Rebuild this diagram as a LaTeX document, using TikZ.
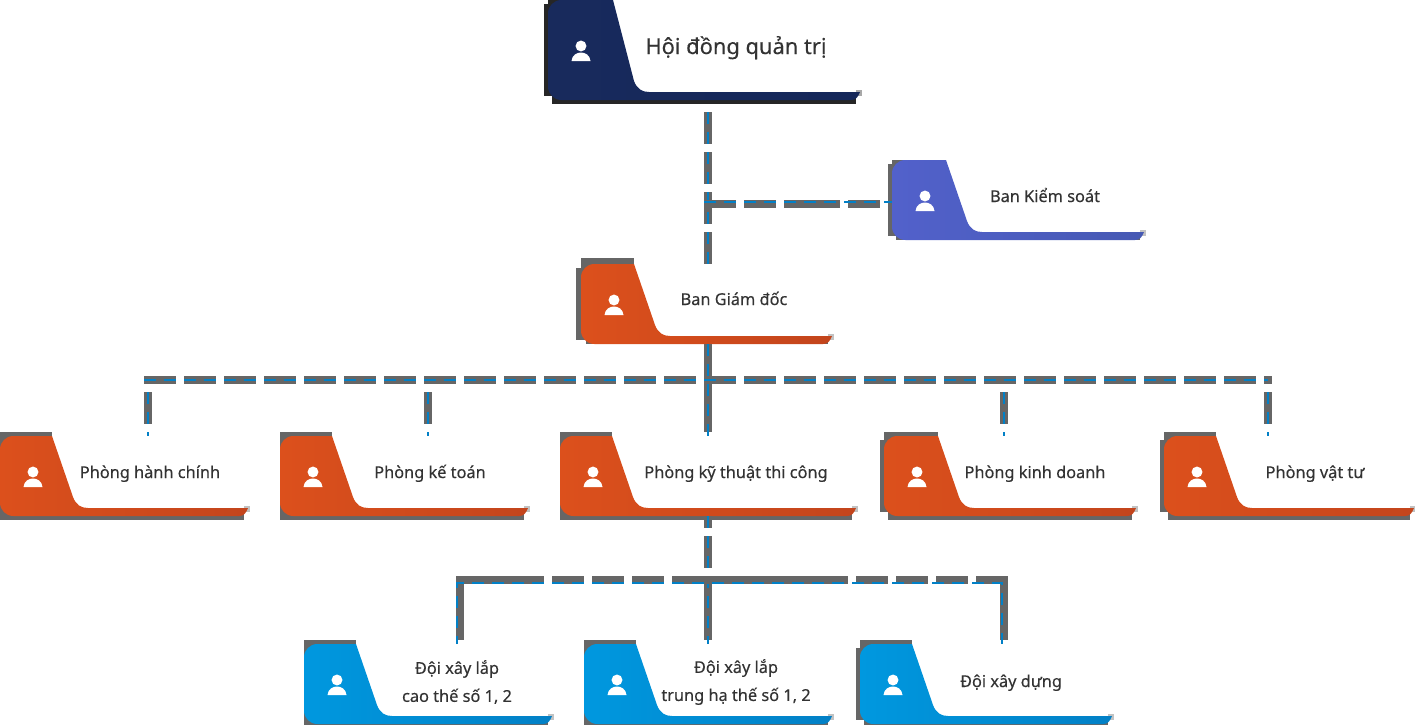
\documentclass[tikz,border=0pt]{standalone}
\usepackage{fontspec}
\setmainfont{Noto Sans}
\newfontfamily\cardfont[FakeBold=0.3]{Noto Sans}
\usetikzlibrary{calc}

\definecolor{navya}{HTML}{182A5C}
\definecolor{navyb}{HTML}{15275A}
\definecolor{violeta}{HTML}{5261CB}
\definecolor{violetb}{HTML}{4659B3}
\definecolor{orangea}{HTML}{DC501C}
\definecolor{orangeb}{HTML}{C3451C}
\definecolor{skya}{HTML}{0098DF}
\definecolor{skyb}{HTML}{0280C6}
\definecolor{wirecol}{HTML}{666666}
\definecolor{inkcol}{HTML}{333333}
\definecolor{darkcol}{HTML}{262626}

\tikzset{
  cardnavy/.style={left color=navya,right color=navyb},
  cardviolet/.style={left color=violeta,right color=violetb},
  cardorange/.style={left color=orangea,right color=orangeb},
  cardsky/.style={left color=skya,right color=skyb},
  wirebase/.style={draw=wirecol,line width=6pt,line join=miter,dash pattern=on 24pt off 6pt},
  wiretop/.style={draw=skyb,line width=2pt,dash pattern=on 9pt off 6pt},
  cardtext/.style={text=inkcol,font=\cardfont\fontsize{12.25}{21}\selectfont,anchor=base,inner sep=0pt},
}

% colour, x, y, width, height, notch, left, top and bottom overhang
\newcommand{\cardshadow}[9]{
  \fill[#1] (#2-#7,#3+4) rectangle (#2+4,#3+#5-4);
  \fill[#1] (#2,#3-#8) rectangle (#2+#6,#3+4);
  \fill[#1] (#2+#7,#3+#5-4) rectangle (#2+#4-4,#3+#5+#9);
  \fill[#1!40!white] (#2+#4-4,#3+#5-10) rectangle (#2+#4+2,#3+#5-4);
}

% name, x, y, width, height, notch, style
\newcommand{\card}[7]{
  \pgfmathsetmacro{\barY}{#3+#5-8}
  \pgfmathsetmacro{\iconX}{#2+33}
  \pgfmathsetmacro{\iconY}{#3+(#5-8)/2}
  \shade[#7] (#2+#6,#3) -- (#2+#6+21,\barY-11)
    .. controls (#2+#6+24,\barY-3) and (#2+#6+29,\barY) .. (#2+#6+36,\barY)
    -- (#2+#4,\barY)
    .. controls (#2+#4-2,\barY+5) and (#2+#4-4,#3+#5) .. (#2+#4-9,#3+#5)
    [rounded corners=10pt] -- (#2,#3+#5) -- (#2,#3) [sharp corners] -- cycle;
  \fill[white] (\iconX,\iconY) circle [radius=4.1pt];
  \fill[white] (\iconX-9.5,\iconY+15) .. controls (\iconX-9,\iconY+9) and (\iconX-4,\iconY+6.5) .. (\iconX,\iconY+6.5)
    .. controls (\iconX+4,\iconY+6.5) and (\iconX+9,\iconY+9) .. (\iconX+9.5,\iconY+15) -- cycle;
  \node(#1)[minimum width={#4*0.75pt},minimum height={#5*0.75pt},inner sep=0pt,outer sep=0pt] at (#2+#4/2,#3+#5/2) {};
}

\begin{document}
\begin{tikzpicture}[x=0.75pt,y=-0.75pt]
  \useasboundingbox (0,0) rectangle (1415,725);
  \clip (0,0) rectangle (1415,725);

  \cardshadow{darkcol}{548}{0}{312}{100}{65}{4}{0}{4}
  \cardshadow{wirecol}{892}{160}{252}{80}{54}{4}{0}{0}
  \cardshadow{wirecol}{581}{264}{251}{80}{53}{5}{6}{0}
  \cardshadow{wirecol}{0}{436}{248}{80}{52}{0}{4}{4}
  \cardshadow{wirecol}{280}{436}{248}{80}{52}{0}{4}{4}
  \cardshadow{wirecol}{560}{436}{296}{80}{52}{0}{4}{4}
  \cardshadow{wirecol}{884}{436}{252}{80}{54}{4}{4}{4}
  \cardshadow{wirecol}{1164}{436}{250}{80}{52}{4}{4}{4}
  \cardshadow{wirecol}{304}{644}{248}{80}{52}{0}{4}{4}
  \cardshadow{wirecol}{584}{644}{248}{80}{52}{0}{4}{4}
  \cardshadow{wirecol}{860}{644}{252}{80}{52}{4}{4}{4}

  \card{hdqt}{548}{0}{312}{100}{65}{cardnavy}
  \card{bks}{892}{160}{252}{80}{54}{cardviolet}
  \card{bgd}{581}{264}{251}{80}{53}{cardorange}
  \card{pha}{0}{436}{248}{80}{52}{cardorange}
  \card{pkt}{280}{436}{248}{80}{52}{cardorange}
  \card{pkl}{560}{436}{296}{80}{52}{cardorange}
  \card{pkd}{884}{436}{252}{80}{54}{cardorange}
  \card{pvt}{1164}{436}{250}{80}{52}{cardorange}
  \card{dxa}{304}{644}{248}{80}{52}{cardsky}
  \card{dxb}{584}{644}{248}{80}{52}{cardsky}
  \card{dyd}{860}{644}{252}{80}{52}{cardsky}

  \coordinate (junca) at (708,204);
  \coordinate (juncb) at (708,202);
  \coordinate (busa) at (708,380);
  \coordinate (busl) at (148,380);
  \coordinate (busr) at (1268,380);
  \coordinate (dropa) at (428,380);
  \coordinate (dropb) at (1004,380);
  \coordinate (busb) at (708,580);
  \coordinate (lowl) at (460,580);
  \coordinate (lowr) at (1004,580);
  \coordinate (bluel) at (457,583);
  \coordinate (bluer) at (1002,583);

  \draw[wirebase,shorten <=9pt] (hdqt.south -| junca) -- (bgd.north -| junca);
  \draw[wiretop,shorten <=9pt] (hdqt.south -| junca) -- (bgd.north -| junca);
  \draw[wirebase,shorten <=-3pt,dash pattern=on 24pt off 6pt on 24pt off 6pt on 42pt off 6pt on 24pt off 200pt] (junca) -- (bks.west |- junca);
  \draw[wiretop,shorten <=-3pt] (juncb) -- (bks.west |- juncb);

  \draw[wirebase,solid,shorten >=3pt] (bgd.south -| busa) -- (pkl.north -| busa);
  \draw[wiretop] (bgd.south -| busa) -- (pkl.north -| busa);
  \draw[wirebase,shorten <=-3pt,shorten >=-3pt] (busl) -- (busr);
  \draw[wiretop,shorten <=-3pt] (busl) -- (busr);
  \foreach \a/\b in {busl/pha,dropa/pkt,dropb/pkd,busr/pvt}{
    \draw[wirebase,shorten <=9pt,shorten >=3pt] (\a) -- (\b.north -| \a);
    \draw[wiretop,shorten <=9pt] (\a) -- (\b.north -| \a);
  }

  \draw[wirebase,shorten >=3pt,dash pattern=on 9pt off 6pt on 24pt off 6pt on 200pt] (pkl.south -| busb) -- (dxb.north -| busb);
  \draw[wiretop] (pkl.south -| busb) -- (dxb.north -| busb);
  \draw[wirebase,shorten <=3pt,shorten >=3pt,dash pattern=on 108pt off 6pt on 24pt off 6pt on 24pt off 6pt on 24pt off 6pt on 132pt off 6pt on 24pt off 6pt on 24pt off 6pt on 24pt off 6pt on 100pt] (dxa.north -| lowl) -- (lowl) -- (lowr) -- (dyd.north -| lowr);
  \draw[wiretop,dash phase=3pt] (dxa.north -| bluel) -- (bluel) -- (bluer) -- (dyd.north -| bluer);

  \node(hdqtl)[cardtext,font=\cardfont\fontsize{16.4}{21}\selectfont] at (736,54) {Hội đồng quản trị};
  \node(bksl)[cardtext] at (1045,202) {Ban Kiểm soát};
  \node(bgdl)[cardtext] at (734,305) {Ban Giám đốc};
  \node(phal)[cardtext] at (150,478) {Phòng hành chính};
  \node(pktl)[cardtext] at (430,478) {Phòng kế toán};
  \node(pkll)[cardtext] at (736,478) {Phòng kỹ thuật thi công};
  \node(pkdl)[cardtext] at (1035,478) {Phòng kinh doanh};
  \node(pvtl)[cardtext] at (1315,478) {Phòng vật tư};
  \node(dxal)[cardtext,anchor=center,align=center] at (457,682) {Đội xây lắp\\cao thế số 1, 2};
  \node(dxbl)[cardtext,anchor=center,align=center] at (736,682) {Đội xây lắp\\trung hạ thế số 1, 2};
  \node(dydl)[cardtext] at (1011,687) {Đội xây dựng};
\end{tikzpicture}
\end{document}
